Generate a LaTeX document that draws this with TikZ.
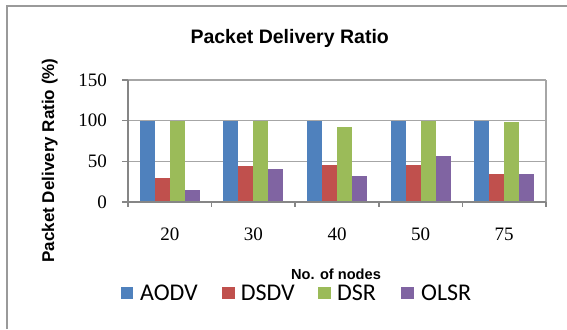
\documentclass[tikz,border=0pt]{standalone}
\usepackage{fontspec}
\setmainfont{Liberation Serif}
\newfontfamily\arialf{Liberation Sans}
\newfontfamily\calf{Carlito}
\definecolor{aodvc}{HTML}{4F81BD}
\definecolor{dsdvc}{HTML}{C0504D}
\definecolor{dsrc}{HTML}{9BBB59}
\definecolor{olsrc}{HTML}{8064A2}
\definecolor{gridc}{HTML}{A6A6A6}
\definecolor{axisc}{HTML}{868686}
\definecolor{framec}{HTML}{9A9A9A}
\begin{document}
\begin{tikzpicture}[x=1pt,y=-1pt,
  gridline/.style={draw=gridc,line width=1.4pt},
  axisline/.style={draw=axisc,line width=1.5pt},
  ticklbl/.style={font=\fontsize{19}{20}\selectfont,inner sep=0pt},
  ylbl/.style={font=\fontsize{19}{20}\selectfont,inner sep=0pt,anchor=east},
  legsq/.style={minimum size=12.7pt,inner sep=0pt,draw=none},
  legtxt/.style={font=\calf\fontsize{24}{26}\selectfont,inner sep=0pt,anchor=base west},
  bar/.style={draw=none}]
\useasboundingbox (0,0) rectangle (567,329);
\fill[white] (0,0) rectangle (567,329);
% outer frame
\draw[draw=framec,line width=1.3pt] (7,329) -- (7,6) -- (567,6);
% gridlines
\foreach \v in {50,100,150}
  \draw[gridline] (128,{202-\v*0.81333}) -- (546,{202-\v*0.81333});
\draw[gridline] (546,80) -- (546,207);
% bars
\foreach \g/\a/\b/\c/\d in {0/100/30/99/15,1/100/44/99/40,2/100/46/92/32,3/100/45/99/56,4/100/35/98/34}{
  \pgfmathsetmacro{\gx}{128+83.6*\g+11.8}
  \fill[aodvc] (\gx,202) rectangle ++(15,{-\a*0.81333});
  \fill[dsdvc] (\gx+15,202) rectangle ++(15,{-\b*0.81333});
  \fill[dsrc] (\gx+30,202) rectangle ++(15,{-\c*0.81333});
  \fill[olsrc] (\gx+45,202) rectangle ++(15,{-\d*0.81333});
}
% axes
\draw[axisline] (128,80) -- (128,202) -- (546,202);
\foreach \v in {0,50,100,150}
  \draw[axisline] (122,{202-\v*0.81333}) -- (128,{202-\v*0.81333});
\foreach \g in {0,1,2,3,4,5}
  \draw[axisline] ({128+83.6*\g},202) -- ({128+83.6*\g},207);
% y tick labels
\foreach \v in {0,50,100,150}
  \node[ylbl] (yl\v) at (107,{202-\v*0.81333}) {\v};
% x tick labels
\foreach \g/\l in {0/20,1/30,2/40,3/50,4/75}
  \node[ticklbl,anchor=base] (xl\g) at ({128+83.6*\g+41.8},240.5) {\l};
% titles
\node[font=\arialf\bfseries\fontsize{19.5}{21}\selectfont,inner sep=0pt,anchor=base] (title) at (289.7,43.3) {Packet Delivery Ratio};
\node[font=\arialf\bfseries\fontsize{14.6}{16}\selectfont,inner sep=0pt,anchor=base] (xtitle) at (336,279.5) {No. of nodes};
\node[font=\arialf\bfseries\fontsize{17}{18}\selectfont,inner sep=0pt,anchor=base,rotate=90] (ytitle) at (54,160.5) {Packet Delivery Ratio (\%)};
% legend
\node[legsq,fill=aodvc] (sqA) at (127,293) {};
\node[legtxt] (tA) at (140,300) {AODV};
\node[legsq,fill=dsdvc] (sqB) at (228.7,293) {};
\node[legtxt] (tB) at (240.7,300) {DSDV};
\node[legsq,fill=dsrc] (sqC) at (324.5,293) {};
\node[legtxt] (tC) at (337,300) {DSR};
\node[legsq,fill=olsrc] (sqD) at (407.7,293) {};
\node[legtxt] (tD) at (421,300) {OLSR};
\end{tikzpicture}
\end{document}
